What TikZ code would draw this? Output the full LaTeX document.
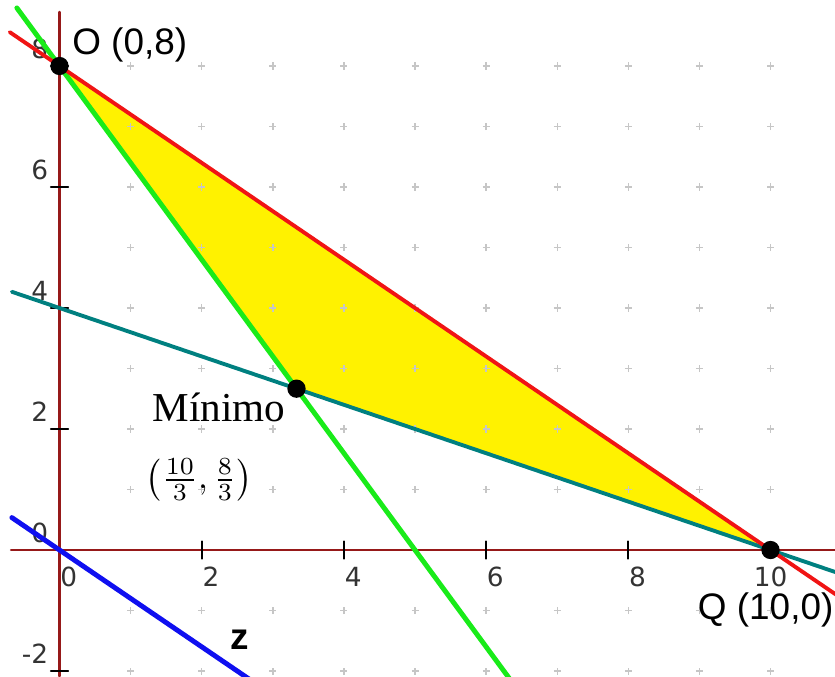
\documentclass[tikz,border=0pt]{standalone}
\usepackage{fontspec}
\setmainfont{Liberation Serif}
\newfontfamily\etiq{Liberation Sans}
\newfontfamily\numer{DejaVu Sans}
\definecolor{ejes}{RGB}{150,25,25}
\definecolor{verde}{RGB}{25,235,25}
\definecolor{azulv}{RGB}{0,128,128}
\definecolor{rojo}{RGB}{240,20,20}
\definecolor{azul}{RGB}{15,15,240}
\begin{document}
\begin{tikzpicture}[x=0.711cm, y=0.605cm, line join=round, line cap=round,
	punto/.style={circle, fill=black, inner sep=0pt, minimum size=5.2pt},
	numero/.style={font=\numer\fontsize{7.5}{9}\selectfont, text=black!80, inner sep=1pt}]
	\def\xt{-0.837} % bordes de la figura
	\def\xp{10.907}
	\def\yd{-2.083}
	\def\yt{9.091}
	\useasboundingbox (\xt,\yd) rectangle (\xp,\yt);
	\coordinate (O) at (0,8);
	\coordinate (M) at (10/3,8/3);
	\coordinate (Q) at (10,0);
	\fill[yellow] (O) -- (M) -- (Q) -- cycle;
	% puntos de la cuadricula
	\foreach \i in {1,...,10} \foreach \j in {-2,...,8} {\ifnum\j=0\relax\else
		\draw[gray!45, line width=0.4pt, line cap=butt] (\i,\j) +(-1pt,0) -- +(1pt,0) (\i,\j) +(0,-1pt) -- +(0,1pt);\fi}
	\draw[ejes, line width=0.8pt] (-0.68,0) -- (\xp,0);
	\draw[ejes, line width=0.8pt] (0,8.89) -- (0,\yd);
	\foreach \i in {2,4,6,8} \draw[line width=0.5pt] (\i,0) +(0,-2.5pt) -- +(0,2.5pt);
	\foreach \j in {-2,2,4,6,8} \draw[line width=0.5pt] (0,\j) +(-2.5pt,0) -- +(2.5pt,0);
	\foreach \i in {0,2,4,6,8} \node[numero] (x\i) at (\i+0.13,-0.44) {\i};
	\node[numero] (x10) at (10,-0.44) {10};
	\foreach \j in {-2,0,2,4,6,8} \node[numero, anchor=east] (y\j) at (-0.1,\j+0.28) {\j};
	\begin{scope}
		\clip (\xt,\yd) rectangle (\xp,\yt);
		\draw[azulv, line width=1.1pt, samples=2, domain=-0.67:11] plot (\x,{4-0.4*\x});
		\draw[verde, line width=1.4pt, samples=2, domain=-0.6:6.5] plot (\x,{8-1.6*\x});
		\draw[rojo, line width=1.1pt, samples=2, domain=-0.7:11] plot (\x,{8-0.8*\x});
		\draw[azul, line width=1.4pt, samples=2, domain=-0.67:3] plot (\x,{-0.8*\x});
	\end{scope}
	\node[punto] (pO) at (O) {};
	\node[punto] (pM) at (M) {};
	\node[punto] (pQ) at (Q) {};
	\node[anchor=west, font=\etiq\fontsize{10.5}{12}\selectfont, inner sep=0pt] (lO) at (0.17,8.35) {O (0,8)};
	\node[anchor=west, font=\etiq\fontsize{10.5}{12}\selectfont, inner sep=0pt] (lQ) at (8.97,-0.99) {Q (10,0)};
	\node[font=\fontsize{11.7}{14}\selectfont, inner sep=0pt] (lmin) at (2.24,2.35) {Mínimo};
	\node[font=\fontsize{10}{12}\selectfont, inner sep=0pt] (lfrac) at (1.96,1.16) {$\left(\frac{10}{3},\frac{8}{3}\right)$};
	\node[font=\etiq\bfseries\fontsize{10.5}{12}\selectfont, inner sep=0pt] (lz) at (2.54,-1.49) {z};
\end{tikzpicture}
\end{document}
